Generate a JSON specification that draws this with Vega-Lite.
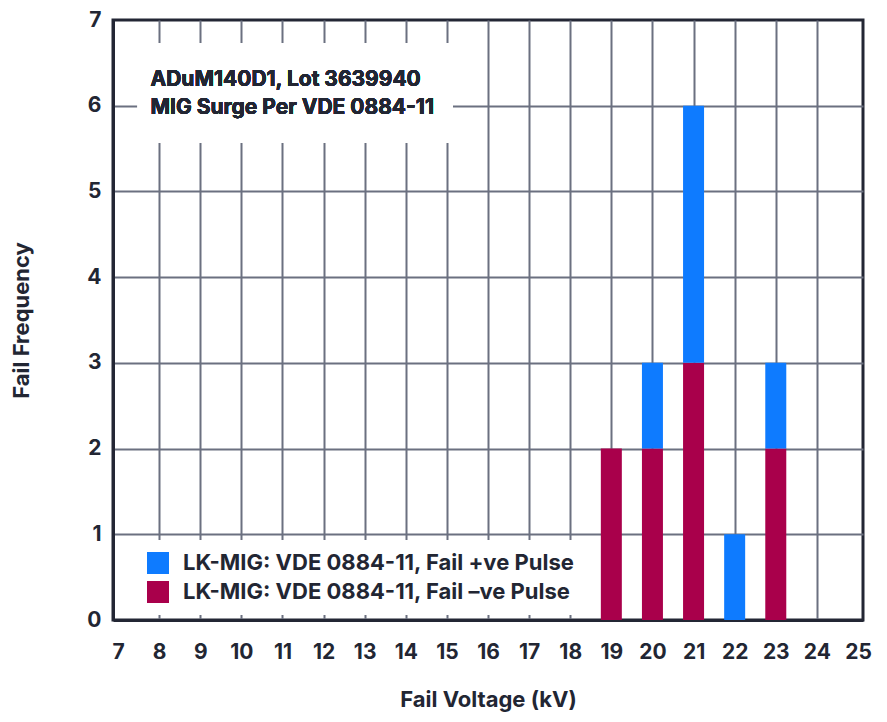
{
  "$schema": "https://vega.github.io/schema/vega-lite/v6.json",
  "width": 750,
  "height": 600,
  "autosize": {"type": "none"},
  "padding": {"left": 113, "top": 20, "right": 24, "bottom": 102},
  "background": "white",
  "data": {
    "values": [
      {"kv": 19, "pulse": "LK-MIG: VDE 0884-11, Fail –ve Pulse", "ord": 1, "count": 2},
      {"kv": 20, "pulse": "LK-MIG: VDE 0884-11, Fail –ve Pulse", "ord": 1, "count": 2},
      {"kv": 20, "pulse": "LK-MIG: VDE 0884-11, Fail +ve Pulse", "ord": 2, "count": 1},
      {"kv": 21, "pulse": "LK-MIG: VDE 0884-11, Fail –ve Pulse", "ord": 1, "count": 3},
      {"kv": 21, "pulse": "LK-MIG: VDE 0884-11, Fail +ve Pulse", "ord": 2, "count": 3},
      {"kv": 22, "pulse": "LK-MIG: VDE 0884-11, Fail +ve Pulse", "ord": 2, "count": 1},
      {"kv": 23, "pulse": "LK-MIG: VDE 0884-11, Fail –ve Pulse", "ord": 1, "count": 2},
      {"kv": 23, "pulse": "LK-MIG: VDE 0884-11, Fail +ve Pulse", "ord": 2, "count": 1}
    ]
  },
  "encoding": {
    "x": {
      "type": "quantitative",
      "scale": {"domain": [7, 25], "nice": false, "zero": false},
      "title": "Fail Voltage (kV)",
      "axis": {
        "values": [7, 8, 9, 10, 11, 12, 13, 14, 15, 16, 17, 18, 19, 20, 21, 22, 23, 24, 25],
        "format": "d",
        "labelPadding": 21,
        "titlePadding": 27,
        "gridColor": {"condition": {"test": "datum.value == 7 || datum.value == 25", "value": "transparent"}, "value": "#6b7080"}
      }
    },
    "y": {
      "type": "quantitative",
      "scale": {"domain": [0, 7], "nice": false},
      "title": "Fail Frequency",
      "axis": {
        "values": [0, 1, 2, 3, 4, 5, 6, 7],
        "format": "d",
        "labelPadding": 12,
        "titlePadding": 53,
        "gridColor": {"condition": {"test": "datum.value == 0 || datum.value == 7", "value": "transparent"}, "value": "#6b7080"}
      }
    }
  },
  "layer": [
    {
      "mark": {"type": "rect", "fill": "white"},
      "encoding": {
        "x": {"datum": 7.48},
        "x2": {"datum": 15.14},
        "y": {"datum": 6.73},
        "y2": {"datum": 5.565}
      }
    },
    {
      "mark": {"type": "text", "align": "left", "baseline": "middle", "fontSize": 21, "fontWeight": "bold", "lineHeight": 28, "color": "#222633"},
      "encoding": {
        "x": {"datum": 7.79},
        "y": {"datum": 6.3},
        "text": {"value": ["ADuM140D1, Lot 3639940", "MIG Surge Per VDE 0884-11"]}
      }
    },
    {
      "mark": {"type": "bar", "size": 21},
      "encoding": {
        "x": {"field": "kv"},
        "y": {"field": "count", "aggregate": "sum", "stack": "zero"},
        "order": {"field": "ord", "type": "quantitative"},
        "color": {
          "field": "pulse",
          "type": "nominal",
          "scale": {
            "domain": ["LK-MIG: VDE 0884-11, Fail +ve Pulse", "LK-MIG: VDE 0884-11, Fail –ve Pulse"],
            "range": ["#0e7bff", "#a9004b"]
          },
          "legend": {
            "title": null,
            "orient": "none",
            "legendX": 22,
            "legendY": 520,
            "padding": 12,
            "fillColor": "white",
            "symbolType": "square",
            "symbolSize": 484,
            "symbolStrokeWidth": 0,
            "labelFontSize": 22,
            "labelFontWeight": "bold",
            "labelColor": "#222633",
            "labelOffset": 14,
            "rowPadding": 7,
            "labelLimit": 500
          }
        }
      }
    }
  ],
  "config": {
    "font": "Inter",
    "view": {"stroke": "#232634", "strokeWidth": 3},
    "axis": {
      "grid": true,
      "gridWidth": 2,
      "domain": true,
      "domainColor": "#232634",
      "domainWidth": 3,
      "ticks": false,
      "labelFontSize": 21,
      "labelFontWeight": "bold",
      "labelColor": "#222633",
      "titleFontSize": 22,
      "titleFontWeight": "bold",
      "titleColor": "#222633",
      "labelFlush": false,
      "labelOverlap": false
    }
  }
}
